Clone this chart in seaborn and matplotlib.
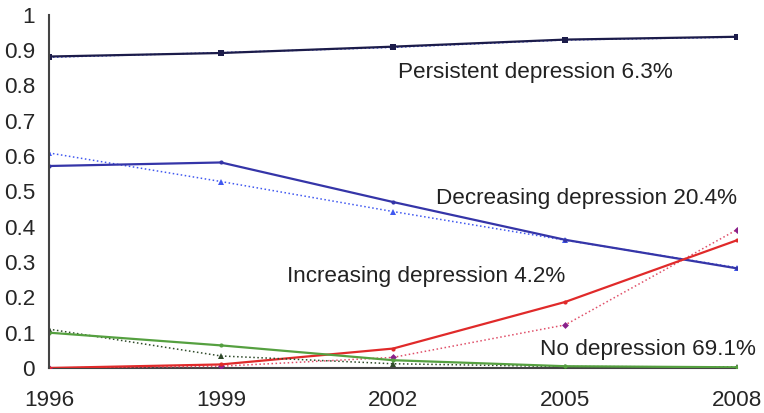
import matplotlib
matplotlib.use("Agg")
import matplotlib.pyplot as plt
import seaborn as sns
import pandas as pd

years = [1996, 1999, 2002, 2005, 2008]

# fitted (solid) and observed (dotted) proportions per trajectory group
persistent_fit = [0.882, 0.892, 0.910, 0.930, 0.938]
persistent_obs = [0.880, 0.893, 0.908, 0.929, 0.937]
decreasing_fit = [0.572, 0.582, 0.470, 0.363, 0.282]
decreasing_obs = [0.609, 0.528, 0.443, 0.362, 0.284]
increasing_fit = [0.000, 0.010, 0.055, 0.187, 0.362]
increasing_obs = [0.000, 0.005, 0.030, 0.122, 0.392]
nodep_fit = [0.100, 0.064, 0.022, 0.005, 0.002]
nodep_obs = [0.110, 0.034, 0.012, 0.004, 0.003]

labels = ["Persistent depression 6.3%", "Decreasing depression 20.4%",
          "Increasing depression 4.2%", "No depression 69.1%"]
yticks = [0, 0.1, 0.2, 0.3, 0.4, 0.5, 0.6, 0.7, 0.8, 0.9, 1]
ytick_labels = ["0", "0.1", "0.2", "0.3", "0.4", "0.5", "0.6", "0.7", "0.8", "0.9", "1"]

sns.set_style("white")
plt.rcParams["font.family"] = ["Liberation Sans", "DejaVu Sans"]

fig = plt.figure(figsize=(7.64, 4.13), dpi=100)
ax = fig.add_axes([0.064, 0.109, 0.901, 0.855])

series = [
    (persistent_obs, "#2b3bd6", ":", "s", 4),
    (persistent_fit, "#1c1c4a", "-", "s", 4),
    (decreasing_obs, "#4058f0", ":", "^", 4),
    (decreasing_fit, "#3535a8", "-", "o", 3),
    (increasing_obs, "#e0506a", ":", "D", 3.5),
    (increasing_fit, "#e02a2a", "-", "o", 3),
    (nodep_obs, "#2f4a2a", ":", "^", 4),
    (nodep_fit, "#55a040", "-", "o", 3),
]
mcolors = {"D": "#8a208a"}
for vals, col, ls, mk, ms in series:
    df = pd.DataFrame({"year": years, "p": vals})
    sns.lineplot(data=df, x="year", y="p", ax=ax, color=col, linestyle=ls,
                 marker=mk, markersize=ms, markeredgewidth=0,
                 markerfacecolor=mcolors.get(mk, col), linewidth=1.6 if ls == "-" else 1.1)

txt = dict(fontsize=16.2, color="#222222", ha="left", va="center", clip_on=False)
ax.text(2002.09, 0.838, labels[0], **txt)
ax.text(2002.75, 0.479, labels[1], **txt)
ax.text(2000.15, 0.26, labels[2], **txt)
ax.text(2004.56, 0.051, labels[3], **txt)

ax.set_xlim(1996, 2008)
ax.set_ylim(0, 1)
ax.set_xticks(years)
ax.set_xticklabels([str(y) for y in years], fontsize=16.2)
ax.set_yticks(yticks)
ax.set_yticklabels(ytick_labels, fontsize=16.2)
ax.set_xlabel("")
ax.set_ylabel("")
ax.tick_params(axis="y", direction="out", length=6, width=1.2, color="#444444", pad=4)
ax.tick_params(axis="x", direction="inout", length=8, width=1.2, color="#222222", pad=12)
sns.despine(ax=ax)
for s in ["left", "bottom"]:
    ax.spines[s].set_color("#444444")
    ax.spines[s].set_linewidth(1.5)
ax.spines["bottom"].set_zorder(0)

fig.savefig("out.png", dpi=100)
